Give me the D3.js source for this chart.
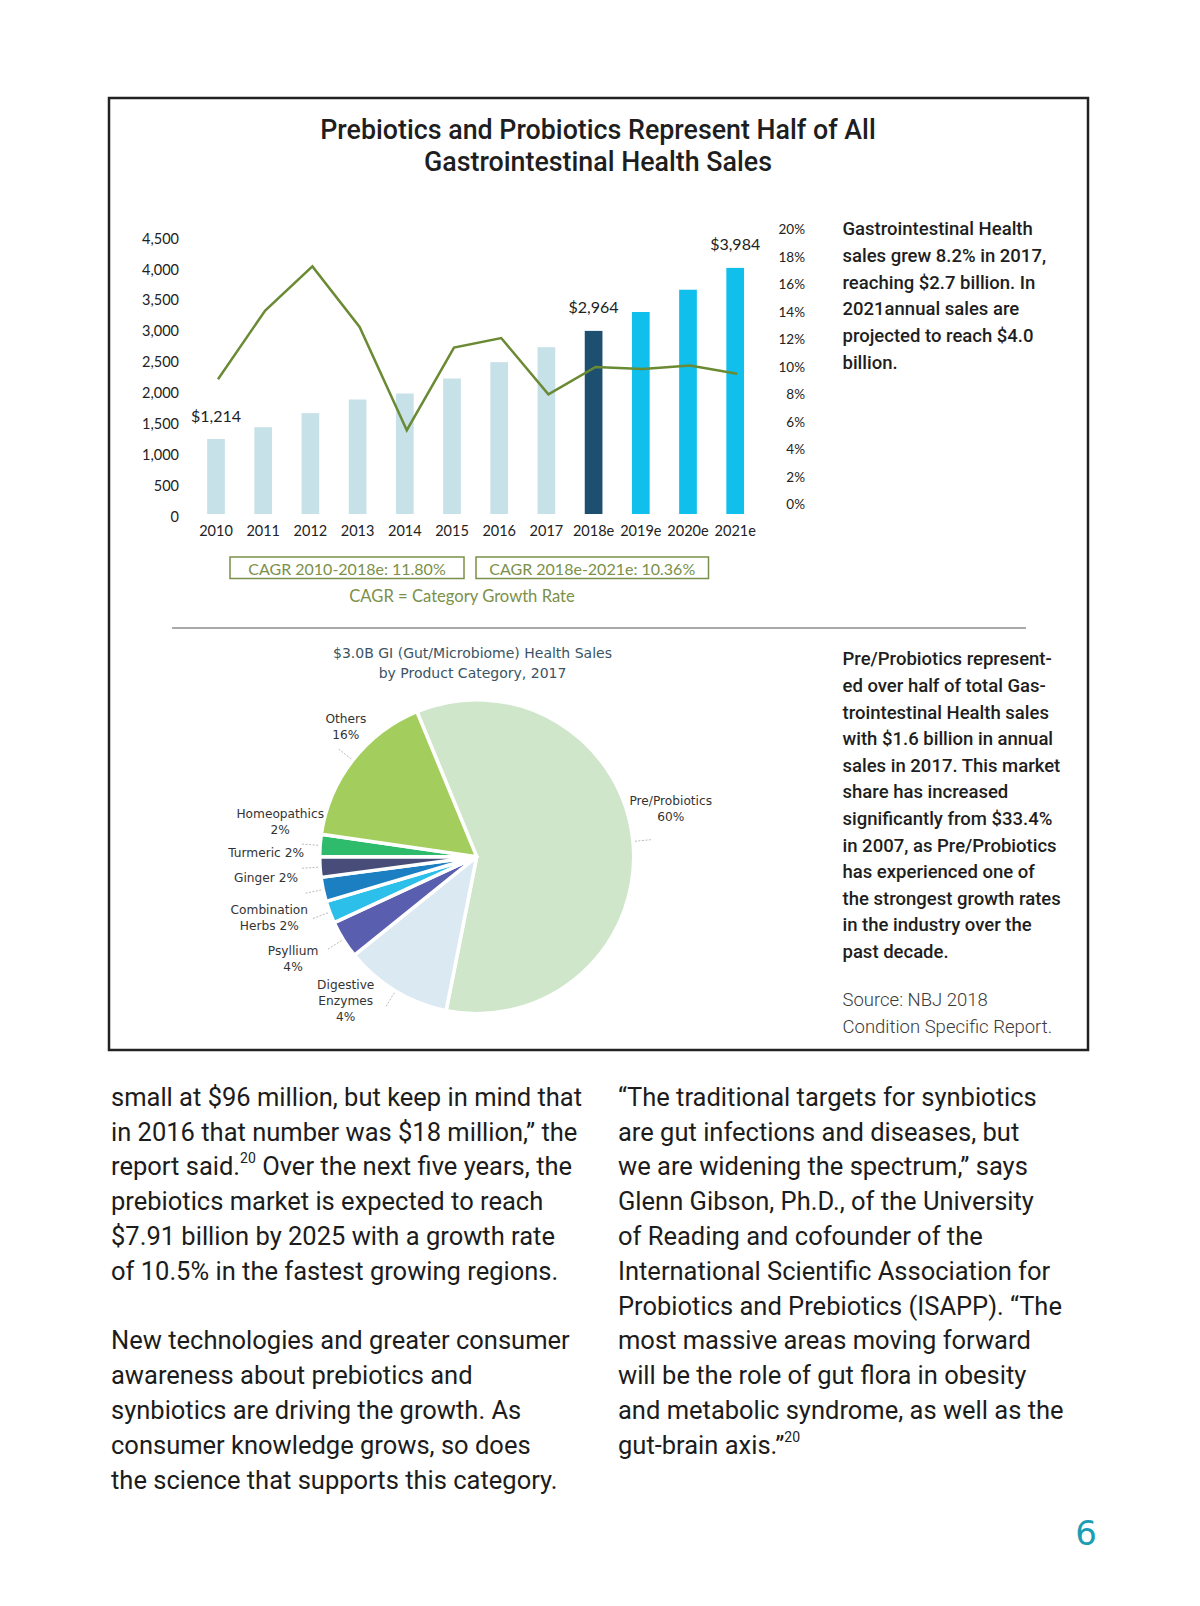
<!DOCTYPE html>
<html>
<head>
<meta charset="utf-8">
<script src="https://cdn.jsdelivr.net/npm/d3@7"></script>
<style>
  body { margin: 0; background: #fff; }
  svg { display: block; }
</style>
</head>
<body>
<script>
// bar + line chart data (sales in $M, growth in %)
const years = ["2010", "2011", "2012", "2013", "2014", "2015", "2016", "2017", "2018e", "2019e", "2020e", "2021e"];
const sales = [1214, 1405, 1632, 1853, 1950, 2193, 2458, 2700, 2964, 3270, 3630, 3984];
const growth = [9.1, 14.1, 17.3, 12.9, 5.4, 11.4, 12.1, 8.0, 10.0, 9.85, 10.1, 9.5];
const barGroup = ["actual", "actual", "actual", "actual", "actual", "actual", "actual", "actual", "base", "projected", "projected", "projected"];
const labelledYears = ["2010", "2018e", "2021e"];
const salesTicks = [0, 500, 1000, 1500, 2000, 2500, 3000, 3500, 4000, 4500];
const growthTicks = [0, 2, 4, 6, 8, 10, 12, 14, 16, 18, 20];
const cagrLabels = ["CAGR 2010-2018e: 11.80%", "CAGR 2018e-2021e: 10.36%"];

// pie data (shares as drawn, labels as printed)
const pieCategories = ["Pre/Probiotics", "Digestive Enzymes", "Psyllium", "Combination Herbs", "Ginger", "Turmeric", "Homeopathics", "Others"];
const pieShares = [59.4, 11.1, 3.9, 2.3, 2.5, 2.1, 2.3, 16.5];
const pieLabelLines = [["Pre/Probiotics", "60%"], ["Digestive", "Enzymes", "4%"], ["Psyllium", "4%"], ["Combination", "Herbs 2%"], ["Ginger 2%"], ["Turmeric 2%"], ["Homeopathics", "2%"], ["Others", "16%"]];

const titleLines = ["Prebiotics and Probiotics Represent Half of All", "Gastrointestinal Health Sales"];
const note1 = ["Gastrointestinal Health", "sales grew 8.2% in 2017,", "reaching $2.7 billion. In", "2021annual sales are", "projected to reach $4.0", "billion."];
const note2 = ["Pre/Probiotics represent-", "ed over half of total Gas-", "trointestinal Health sales", "with $1.6 billion in annual", "sales in 2017. This market", "share has increased", "significantly from $33.4%", "in 2007, as Pre/Probiotics", "has experienced one of", "the strongest growth rates", "in the industry over the", "past decade."];
const sourceLines = ["Source: NBJ 2018", "Condition Specific Report."];
const pieTitle = ["$3.0B GI (Gut/Microbiome) Health Sales", "by Product Category, 2017"];

const leftColumn = [
    "small at $96 million, but keep in mind that",
    "in 2016 that number was $18 million,\u201D the",
    "report said.{20} Over the next five years, the",
    "prebiotics market is expected to reach",
    "$7.91 billion by 2025 with a growth rate",
    "of 10.5% in the fastest growing regions.",
    "",
    "New technologies and greater consumer",
    "awareness about prebiotics and",
    "synbiotics are driving the growth. As",
    "consumer knowledge grows, so does",
    "the science that supports this category."
];
const rightColumn = [
    "\u201CThe traditional targets for synbiotics",
    "are gut infections and diseases, but",
    "we are widening the spectrum,\u201D says",
    "Glenn Gibson, Ph.D., of the University",
    "of Reading and cofounder of the",
    "International Scientific Association for",
    "Probiotics and Prebiotics (ISAPP). \u201CThe",
    "most massive areas moving forward",
    "will be the role of gut flora in obesity",
    "and metabolic syndrome, as well as the",
    "gut-brain axis.\u201D{20}"
];

const colores = {
    actual: "#c6e1e8",
    base: "#1d4f71",
    projected: "#10bfec",
    linea: "#6a8a34",
    olivo: "#7b9049"
};
const pieColors = ["#cfe6cb", "#dbe9f3", "#5a5eae", "#2cbfea", "#1c7fc1", "#474d78", "#2fbb6c", "#a3ce5e"];

const svg = d3.select("body").append("svg")
    .attr("width", 1200)
    .attr("height", 1606);

// outer frame
svg.append("rect")
    .attr("x", 109).attr("y", 98)
    .attr("width", 979).attr("height", 952)
    .attr("fill", "none")
    .attr("stroke", "#222")
    .attr("stroke-width", 2.5);

svg.append("g").selectAll("text").data(titleLines).join("text")
    .attr("x", 598)
    .attr("y", (d, i) => 130 + i * 32)
    .attr("text-anchor", "middle")
    .attr("dominant-baseline", "central")
    .attr("font-family", "Roboto")
    .attr("font-weight", 500)
    .attr("font-size", 26.8)
    .attr("fill", "#1e1e1e")
    .text(d => d);

// scales
const x = d3.scaleBand()
    .domain(years)
    .range([192.4, 758.8])
    .paddingInner(0.625)
    .paddingOuter(0.3125);
const yLeft = d3.scaleLinear().domain([0, 4500]).range([514, 236]);
const yRight = d3.scaleLinear().domain([0, 20]).range([504.5, 229.3]);

const datos = years.map((y, i) => ({ year: y, sales: sales[i], growth: growth[i], group: barGroup[i] }));

svg.append("g").selectAll("rect").data(datos).join("rect")
    .attr("x", d => x(d.year))
    .attr("y", d => yLeft(d.sales))
    .attr("width", x.bandwidth())
    .attr("height", d => yLeft(0) - yLeft(d.sales))
    .attr("fill", d => colores[d.group]);

const linea = d3.line()
    .x(d => x(d.year) + x.bandwidth() / 2 + 2)
    .y(d => yRight(d.growth));

svg.append("path")
    .datum(datos)
    .attr("d", linea)
    .attr("fill", "none")
    .attr("stroke", colores.linea)
    .attr("stroke-width", 2.5)
    .attr("stroke-linejoin", "miter");

svg.append("g").selectAll("text").data(datos.filter(d => labelledYears.includes(d.year))).join("text")
    .attr("x", d => x(d.year) + x.bandwidth() / 2)
    .attr("y", d => yLeft(d.sales) - 24)
    .attr("text-anchor", "middle")
    .attr("dominant-baseline", "central")
    .attr("font-family", "Lato")
    .attr("font-size", 16)
    .attr("fill", "#222")
    .text(d => "$" + d3.format(",")(d.sales));

// axes (no domain lines, just labels)
const ejeIzq = svg.append("g")
    .attr("transform", "translate(183,2.5)")
    .call(d3.axisLeft(yLeft).tickValues(salesTicks).tickFormat(d3.format(",")).tickSize(0).tickPadding(4));
const ejeDer = svg.append("g")
    .attr("transform", "translate(777,0)")
    .call(d3.axisRight(yRight).tickValues(growthTicks).tickFormat(d => d + "%").tickSize(0).tickPadding(0));
ejeDer.selectAll("text").attr("text-anchor", "end").attr("dx", 28);
const ejeX = svg.append("g")
    .attr("transform", "translate(0,523)")
    .call(d3.axisBottom(x).tickSize(0).tickPadding(3));
[ejeIzq, ejeDer, ejeX].forEach(eje => {
    eje.select(".domain").remove();
    eje.selectAll("text")
        .attr("font-family", "Lato")
        .attr("font-size", 14.5)
        .attr("fill", "#222");
});
ejeDer.selectAll("text").attr("font-size", 13.5);

// CAGR boxes
const cajas = [[230, 464], [476, 708.5]];
cagrLabels.forEach((t, i) => {
    svg.append("rect")
        .attr("x", cajas[i][0]).attr("y", 557)
        .attr("width", cajas[i][1] - cajas[i][0]).attr("height", 21.5)
        .attr("fill", "none")
        .attr("stroke", colores.olivo)
        .attr("stroke-width", 1.5);
    svg.append("text")
        .attr("x", (cajas[i][0] + cajas[i][1]) / 2)
        .attr("y", 568)
        .attr("text-anchor", "middle")
        .attr("dominant-baseline", "central")
        .attr("font-family", "Lato")
        .attr("font-size", 16)
        .attr("fill", colores.olivo)
        .text(t);
});
svg.append("text")
    .attr("x", 462).attr("y", 596)
    .attr("text-anchor", "middle")
    .attr("dominant-baseline", "central")
    .attr("font-family", "Lato")
    .attr("font-size", 16.6)
    .attr("fill", colores.olivo)
    .text("CAGR = Category Growth Rate");

const bloqueTexto = (lineas, x0, y0, paso, peso, color) => {
    svg.append("g").selectAll("text").data(lineas).join("text")
        .attr("x", x0)
        .attr("y", (d, i) => y0 + i * paso)
        .attr("dominant-baseline", "central")
        .attr("font-family", "Roboto")
        .attr("font-weight", peso)
        .attr("font-size", 18.5)
        .attr("fill", color)
        .text(d => d);
};
bloqueTexto(note1, 842.5, 229.3, 26.67, 500, "#1e1e1e");
bloqueTexto(note2, 842.5, 659.3, 26.6, 500, "#1e1e1e");
bloqueTexto(sourceLines, 842.5, 1000, 26.7, 300, "#3a3a3a");

// separator
svg.append("line")
    .attr("x1", 172).attr("x2", 1026)
    .attr("y1", 628).attr("y2", 628)
    .attr("stroke", "#555")
    .attr("stroke-width", 1);

svg.append("g").selectAll("text").data(pieTitle).join("text")
    .attr("x", 472.5)
    .attr("y", (d, i) => 653.3 + i * 20)
    .attr("text-anchor", "middle")
    .attr("dominant-baseline", "central")
    .attr("font-family", "DejaVu Sans")
    .attr("font-size", 14)
    .attr("fill", "#3a5465")
    .text(d => d);

// pie
const centroX = 476.7, centroY = 856.7, radio = 157;
const inicio = -22.4 * Math.PI / 180;
const pie = d3.pie().sort(null).value(d => d.share).startAngle(inicio).endAngle(inicio + Math.PI * 2);
const arco = d3.arc().innerRadius(0).outerRadius(radio);
const porciones = pie(pieCategories.map((c, i) => ({ name: c, share: pieShares[i], lines: pieLabelLines[i] })));

const gPie = svg.append("g").attr("transform", `translate(${centroX},${centroY})`);
gPie.selectAll("path").data(porciones).join("path")
    .attr("d", arco)
    .attr("fill", (d, i) => pieColors[i])
    .attr("stroke", "#fff")
    .attr("stroke-width", 3.5)
    .attr("stroke-linejoin", "round");

const polar = (a, r) => [Math.sin(a) * r, -Math.cos(a) * r];
// hand nudges for the label blocks, the original placed them by eye
const empuje = {
    "Pre/Probiotics": [0, -11], "Digestive Enzymes": [-30, -5], "Psyllium": [-18, 17],
    "Combination Herbs": [-25, 10], "Ginger": [-20, -1], "Turmeric": [-16, 1],
    "Homeopathics": [-2, -3], "Others": [23, 8]
};
porciones.forEach(p => {
    const mid = (p.startAngle + p.endAngle) / 2;
    const [bx, by] = polar(mid, 195);
    const [nx, ny] = empuje[p.data.name];
    const lx = bx + nx, ly = by - 18 + ny;
    const n = p.data.lines.length;
    const a1 = polar(mid, radio + 2);
    const a2 = polar(mid, radio + 18);
    gPie.append("line")
        .attr("x1", a1[0]).attr("y1", a1[1])
        .attr("x2", a2[0]).attr("y2", a2[1])
        .attr("stroke", "#aaa")
        .attr("stroke-width", 0.8)
        .attr("stroke-dasharray", "2,1.5");
    gPie.append("g").selectAll("text").data(p.data.lines).join("text")
        .attr("x", lx)
        .attr("y", (d, i) => ly + (i - (n - 1) / 2) * 16)
        .attr("text-anchor", "middle")
        .attr("dominant-baseline", "central")
        .attr("font-family", "DejaVu Sans")
        .attr("font-size", 12.2)
        .attr("fill", "#333")
        .text(d => d);
});

// body copy with superscripts marked as {..}
const columna = (lineas, x0) => {
    lineas.forEach((l, i) => {
        if (!l) return;
        const t = svg.append("text")
            .attr("x", x0)
            .attr("y", 1096.7 + i * 34.8)
            .attr("dominant-baseline", "central")
            .attr("font-family", "Roboto")
            .attr("font-weight", 400)
            .attr("font-size", 25.5)
            .attr("fill", "#1c1c1c");
        l.split(/(\{\d+\})/).forEach(seg => {
            if (!seg) return;
            const m = seg.match(/^\{(\d+)\}$/);
            if (m) {
                t.append("tspan").attr("font-size", 14).attr("baseline-shift", "8").text(m[1]);
            } else {
                t.append("tspan").text(seg);
            }
        });
    });
};
columna(leftColumn, 111);
columna(rightColumn, 618);

svg.append("text")
    .attr("x", 1086).attr("y", 1533)
    .attr("text-anchor", "middle")
    .attr("dominant-baseline", "central")
    .attr("font-family", "DejaVu Sans")
    .attr("font-size", 34)
    .attr("fill", "#1b9db4")
    .text("6");
</script>
</body>
</html>
